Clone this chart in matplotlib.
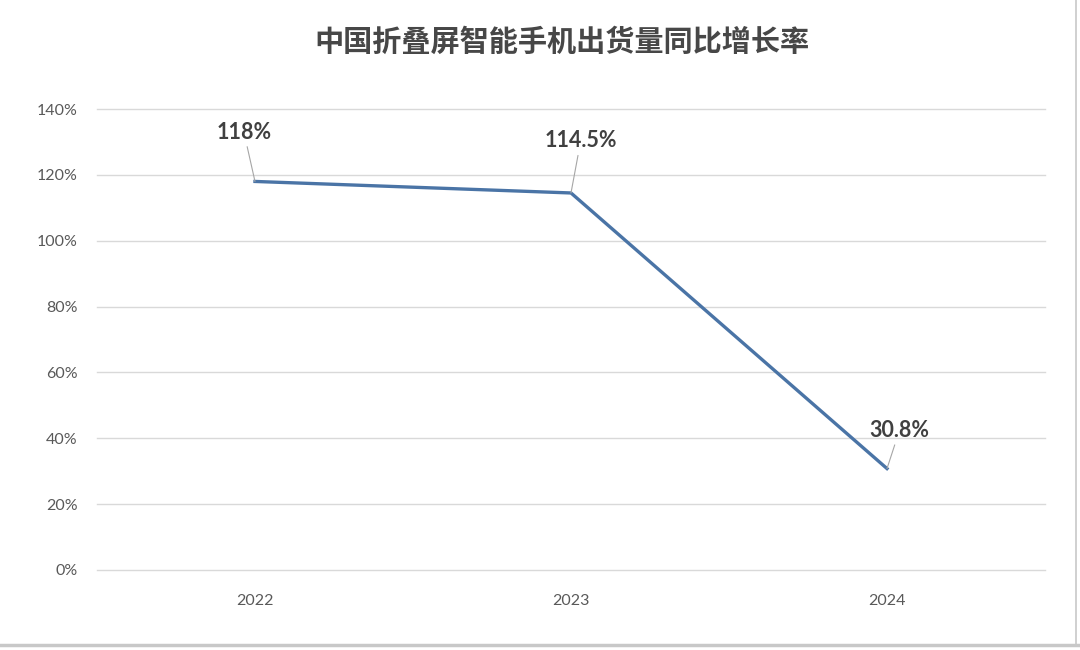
import matplotlib
matplotlib.use("Agg")
import matplotlib.pyplot as plt
from matplotlib.lines import Line2D

plt.rcParams['font.family'] = ['Noto Sans CJK SC', 'DejaVu Sans']

# data
years = ['2022', '2023', '2024']
growth = [1.18, 1.145, 0.308]
labels = ['118%', '114.5%', '30.8%']
label_offsets = [(-8, 28), (7, 30), (9, 20)]  # points, label position relative to point
y_ticks = [0, 0.2, 0.4, 0.6, 0.8, 1.0, 1.2, 1.4]

fig = plt.figure(figsize=(10.8, 6.5), dpi=100)
ax = fig.add_axes([0.0898, 0.1231, 0.8778, 0.7092])

x = list(range(len(years)))
ax.plot(x, growth, color='#4a74a6', linewidth=2.4, solid_joinstyle='miter')

for xi, yi, lab, off in zip(x, growth, labels, label_offsets):
    ax.annotate(lab, xy=(xi, yi), xytext=off, textcoords='offset points',
                ha='center', va='bottom', fontsize=15.5, fontweight='bold',
                color='#404040', family='Lato',
                arrowprops=dict(arrowstyle='-', color='#a6a6a6', lw=0.8,
                                shrinkA=1, shrinkB=0))

ax.set_xlim(-0.5, 2.5)
ax.set_ylim(0, 1.4)
ax.set_xticks(x)
ax.set_xticklabels(years, family='Lato')
ax.set_yticks(y_ticks)
ax.set_yticklabels([f'{int(round(v * 100))}%' for v in y_ticks], family='Lato')
ax.tick_params(axis='both', length=0, labelsize=11.5, colors='#595959')
ax.tick_params(axis='x', pad=17)
ax.tick_params(axis='y', pad=14)
ax.grid(axis='y', color='#d9d9d9', linewidth=1)
for gl in ax.get_ygridlines():
    gl.set_clip_on(False)
ax.set_axisbelow(True)
for s in ax.spines.values():
    s.set_visible(False)

fig.text(0.52, 0.935, '中国折叠屏智能手机出货量同比增长率', ha='center', va='center',
         fontsize=21, fontweight='bold', color='#474747')

# sheet border lines at right and bottom edge
fig.add_artist(Line2D([0.9965, 0.9965], [0.01, 1], color='#c8c8c8', lw=1.2,
                      transform=fig.transFigure))
fig.add_artist(Line2D([0, 1], [0.008, 0.008], color='#c8c8c8', lw=2.5,
                      transform=fig.transFigure))

fig.savefig('out.png', dpi=100)
